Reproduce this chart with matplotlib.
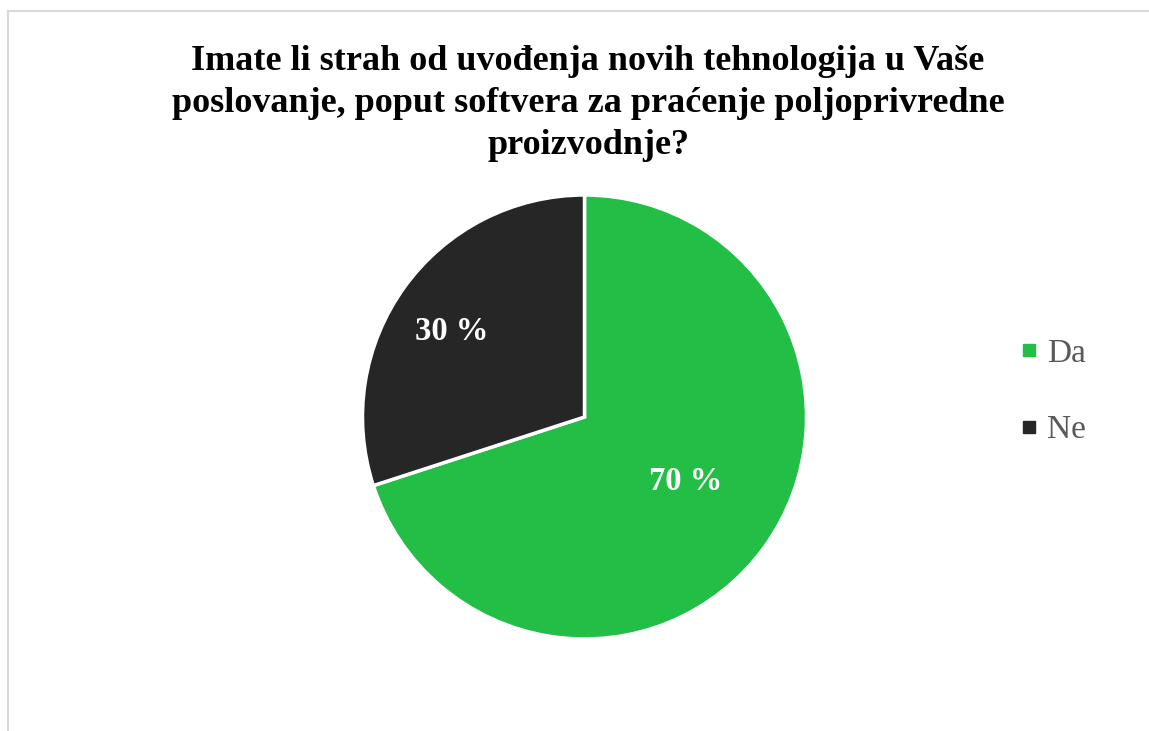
import numpy as np
import matplotlib.pyplot as plt
from matplotlib.lines import Line2D

# data
labels = ['Da', 'Ne']
values = [70, 30]
colors = ['#22BE46', '#262626']
title = ('Imate li strah od uvođenja novih tehnologija u Vaše\n'
         'poslovanje, poput softvera za praćenje poljoprivredne\n'
         'proizvodnje?')

W, H = 1149, 731
fig = plt.figure(figsize=(W / 100, H / 100), dpi=100)

# light frame around the chart (top, left)
fig.add_artist(Line2D([8 / W, 8 / W], [0, 1 - 11 / H], color='#D9D9D9', lw=1.5))
fig.add_artist(Line2D([8 / W, 1], [1 - 11 / H, 1 - 11 / H], color='#D9D9D9', lw=1.5))

cx, cy, r = 584.5, 417, 222
ax = fig.add_axes([(cx - r) / W, (H - cy - r) / H, 2 * r / W, 2 * r / H])
wedges, _ = ax.pie(values, colors=colors, startangle=90, counterclock=False,
                   radius=1, wedgeprops=dict(edgecolor='white', linewidth=2.5))
ax.set_xlim(-1, 1)
ax.set_ylim(-1, 1)
ax.set_aspect('equal')
ax.axis('off')

# percent labels inside slices
dist = [0.53, 0.72]
shift = [5, 2]
for w, v, d, s in zip(wedges, values, dist, shift):
    ang = np.deg2rad((w.theta1 + w.theta2) / 2 + s)
    ax.text(d * np.cos(ang), d * np.sin(ang), f'{v} %', ha='center', va='center_baseline',
            color='white', fontsize=23.5, fontweight='bold', family='Liberation Serif')

fig.text(588 / W, 1 - 45 / H, title, ha='center', va='top', fontsize=26,
         fontweight='bold', family='Liberation Serif', linespacing=1.37)

handles = [Line2D([], [], marker='s', linestyle='none', markersize=8.5,
                  markerfacecolor=c, markeredgecolor=c) for c in colors]
fig.legend(handles, labels, loc='center left', bbox_to_anchor=(982 / W, 1 - 392 / H),
           frameon=False, prop=dict(family='Liberation Serif', size=24),
           labelcolor='#595959', labelspacing=1.38, handletextpad=0.05, handlelength=1.0)

fig.savefig('out.png', dpi=100)
